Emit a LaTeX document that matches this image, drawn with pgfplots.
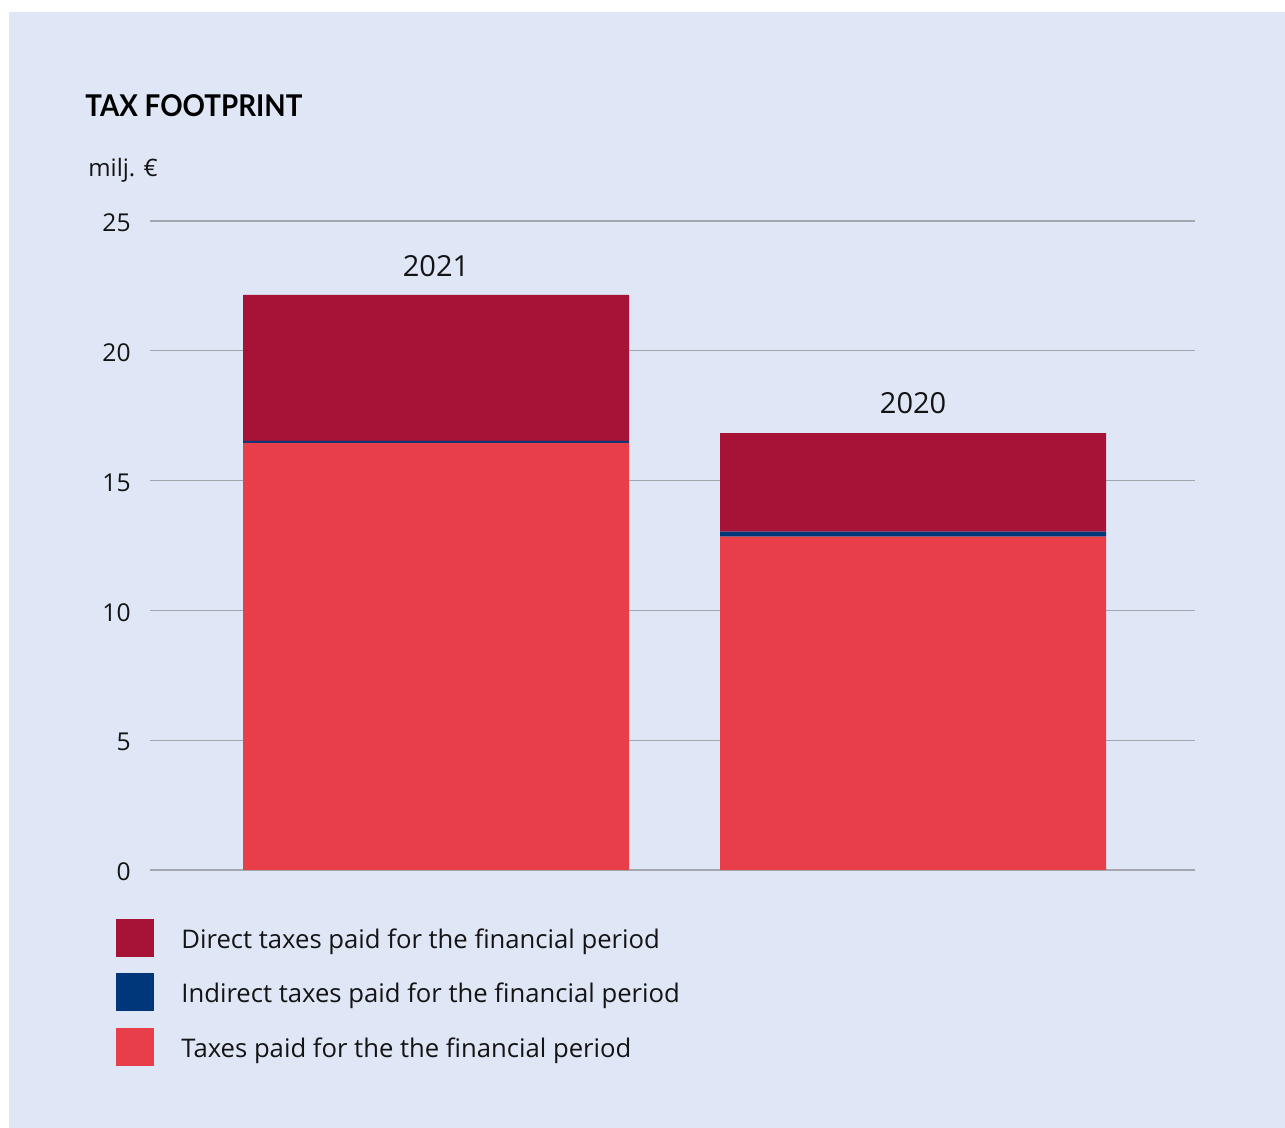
\documentclass[border=0pt]{standalone}
\usepackage{pgfplots}
\pgfplotsset{compat=1.18}
\usepackage{fontspec}
\setmainfont{Open Sans}
\newfontfamily\titlefont{Lato}
\definecolor{bg}{HTML}{DFE6F5}
\definecolor{cdark}{HTML}{A61337}
\definecolor{cblue}{HTML}{00377A}
\definecolor{cred}{HTML}{E83E4A}
\definecolor{gridc}{HTML}{A3A6AD}
\definecolor{textc}{HTML}{141414}
\begin{document}
\begin{tikzpicture}[x=0.5pt,y=0.5pt]
\fill[white] (0,0) rectangle (1285,1128);
\fill[bg] (9,0) rectangle (1285,1116);
\node[anchor=base west, inner sep=0pt, text=black, font=\titlefont\bfseries\fontsize{15}{18}\selectfont] at (85,1011) {\scalebox{0.925}[1]{TAX FOOTPRINT}};
\node[anchor=base west, inner sep=0pt, text=textc, font=\fontsize{12}{14}\selectfont] at (88,951) {milj. €};
\begin{axis}[
  at={(75pt,129pt)}, anchor=south west,
  width=522.5pt, height=324.5pt, scale only axis,
  xmin=-0.5996, xmax=1.591, ymin=0, ymax=25,
  ytick={0,5,10,15,20,25}, xtick=\empty,
  ymajorgrids, grid style={color=gridc, line width=0.6pt},
  axis line style={draw=none}, major tick length=0pt,
  ybar stacked, bar width=0.809,
  /pgf/number format/assume math mode=true,
  yticklabel style={anchor=east, inner sep=0pt, xshift=-9.5pt, yshift=-1pt, text=textc, font=\fontsize{12.3}{14}\selectfont},
  clip=false,
]
\addplot[fill=cred, draw=none] coordinates {(0,16.45) (1,12.84)};
\addplot[fill=cblue, draw=none] coordinates {(0,0.08) (1,0.19)};
\addplot[fill=cdark, draw=none] coordinates {(0,5.62) (1,3.80)};
\node[anchor=base, inner sep=0pt, text=textc, font=\fontsize{14.5}{16}\selectfont] at (axis cs:0,22.85) {2021};
\node[anchor=base, inner sep=0pt, text=textc, font=\fontsize{14.5}{16}\selectfont] at (axis cs:1,17.57) {2020};
\end{axis}
% legend
\fill[cdark] (116,171) rectangle (154,209);
\fill[cblue] (116,117) rectangle (154,155);
\fill[cred] (116,62) rectangle (154,100);
\node[anchor=base west, inner sep=0pt, text=textc, font=\fontsize{12.83}{15}\selectfont] at (181,179) {Direct taxes paid for the financial period};
\node[anchor=base west, inner sep=0pt, text=textc, font=\fontsize{12.83}{15}\selectfont] at (181,125) {Indirect taxes paid for the financial period};
\node[anchor=base west, inner sep=0pt, text=textc, font=\fontsize{12.83}{15}\selectfont] at (181,70) {Taxes paid for the the financial period};
\end{tikzpicture}
\end{document}
